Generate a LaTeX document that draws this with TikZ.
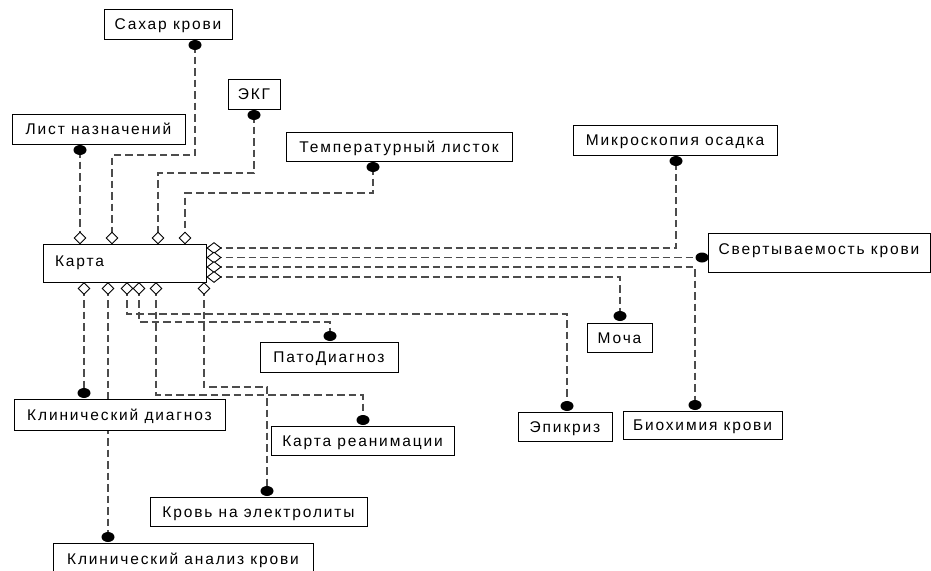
\documentclass[tikz,border=0pt]{standalone}
\usepackage{fontspec}
\setmainfont{Liberation Sans}[LetterSpace=12]
\usetikzlibrary{shapes.geometric,backgrounds}
\begin{document}
\begin{tikzpicture}[x=1pt,y=-1pt,
  box/.style={draw=black, line width=0.9pt, fill=white, inner sep=0pt, text height=11pt, text depth=0pt, font=\fontsize{15.5}{18}\selectfont},
  dot/.style={ellipse, fill=black, minimum width=13pt, minimum height=10pt, inner sep=0pt},
  dmd/.style={diamond, draw=black, fill=white, line width=0.9pt, inner sep=0pt, minimum width=12pt, minimum height=12pt},
  rdmd/.style={dmd, minimum width=14pt, minimum height=11pt},
  link/.style={draw=black!70, line width=1.1pt, dash pattern=on 7.5pt off 4pt}]
\useasboundingbox (0,0) rectangle (931,570);

% boxes
\node[box, minimum width=128pt, minimum height=30pt] (sahar) at (168,24) {Сахар крови};
\node[box, minimum width=52pt, minimum height=30pt] (ekg) at (254,94) {ЭКГ};
\node[box, minimum width=173pt, minimum height=30pt] (list) at (98.5,129) {Лист назначений};
\node[box, minimum width=226pt, minimum height=29pt] (temp) at (399,146.5) {Температурный листок};
\node[box, minimum width=204pt, minimum height=30pt] (micro) at (675,140) {Микроскопия осадка};
\node[box, minimum width=163pt, minimum height=38pt, inner xsep=12pt, text width=139pt, align=left, text height=7pt] (karta) at (124.5,263) {Карта};
\node[box, minimum width=222pt, minimum height=39pt, text height=4pt] (svert) at (819,252.5) {Свертываемость крови};
\node[box, minimum width=65pt, minimum height=29pt] (mocha) at (619.5,337.5) {Моча};
\node[box, minimum width=138pt, minimum height=30pt] (pato) at (329,357) {ПатоДиагноз};
\node[box, minimum width=211pt, minimum height=31pt] (klin) at (119.5,414.5) {Клинический диагноз};
\node[box, minimum width=183pt, minimum height=29pt] (rean) at (362.5,440.5) {Карта реанимации};
\node[box, minimum width=94pt, minimum height=29pt] (epik) at (565,426.5) {Эпикриз};
\node[box, minimum width=159pt, minimum height=28pt] (bio) at (702.5,425) {Биохимия крови};
\node[box, minimum width=217pt, minimum height=29pt] (krov) at (258.5,511.5) {Кровь на электролиты};
\node[box, minimum width=260pt, minimum height=32pt] (kak) at (183,559) {Клинический анализ крови};

% dots
\node[dot] (dsahar) at (195,45) {};
\node[dot] (dekg) at (254,115) {};
\node[dot] (dlist) at (80,150) {};
\node[dot] (dtemp) at (373,167) {};
\node[dot] (dmicro) at (676,161) {};
\node[dot] (dsvert) at (702,257.5) {};
\node[dot] (dmocha) at (620,316) {};
\node[dot] (dbio) at (695,405) {};
\node[dot] (depik) at (567,406) {};
\node[dot] (dpato) at (330,336) {};
\node[dot] (drean) at (363,420) {};
\node[dot] (dkrov) at (267,491) {};
\node[dot] (dklin) at (84,393) {};
\node[dot] (dkak) at (108,537) {};

% diamonds
\node[dmd] (t1) at (80,238) {};
\node[dmd] (t2) at (112,238) {};
\node[dmd] (t3) at (158,238) {};
\node[dmd] (t4) at (185,238) {};
\node[dmd] (b1) at (84,288.5) {};
\node[dmd] (b2) at (108,288.5) {};
\node[dmd] (b3) at (127,288.5) {};
\node[dmd] (b4) at (139,288.5) {};
\node[dmd] (b5) at (156,288.5) {};
\node[dmd] (b6) at (204,288.5) {};
\node[rdmd] (r1) at (214,248) {};
\node[rdmd] (r2) at (214,257.5) {};
\node[rdmd] (r3) at (214,267) {};
\node[rdmd] (r4) at (214,277) {};

% bend points
\coordinate (cs) at (112,155);
\coordinate (ce) at (158,173);
\coordinate (ct) at (185,193);
\coordinate (cep) at (567,314);
\coordinate (cpa) at (330,322);
\coordinate (cre) at (363,395);
\coordinate (ckr) at (267,387);

\begin{scope}[on background layer]
\draw[link] (dlist.center) -- (t1.center);
\draw[link] (dsahar.center) |- (cs) -- (t2.center);
\draw[link] (dekg.center) |- (ce) -- (t3.center);
\draw[link] (dtemp.center) |- (ct) -- (t4.center);
\draw[link] (r1.center) -| (dmicro.center);
\draw[link] (r2.center) -- (dsvert.center);
\draw[link] (r3.center) -| (dbio.center);
\draw[link] (r4.center) -| (dmocha.center);
\draw[link] (b1.center) -- (dklin.center);
\draw[link] (b2.center) -- (dkak.center);
\draw[link] (b3.center) |- (cep) -- (depik.center);
\draw[link] (b4.center) |- (cpa) -- (dpato.center);
\draw[link] (b5.center) |- (cre) -- (drean.center);
\draw[link] (b6.center) |- (ckr) -- (dkrov.center);
\end{scope}
\end{tikzpicture}
\end{document}
